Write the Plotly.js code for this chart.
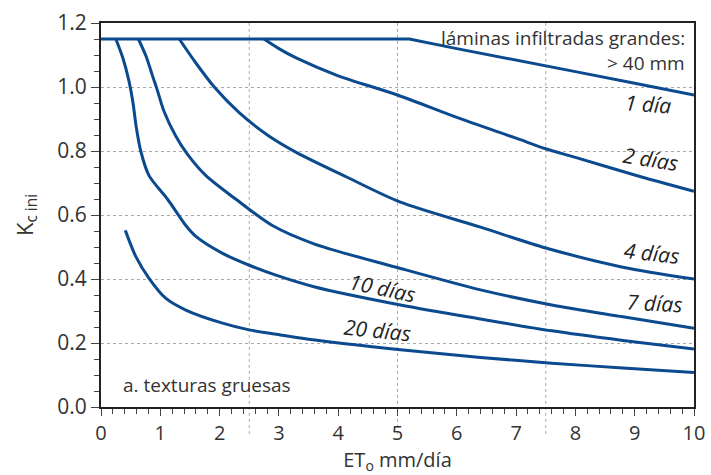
<!DOCTYPE html>
<html>
<head>
<meta charset="utf-8">
<script src="https://cdn.plot.ly/plotly-3.0.1.min.js"></script>
<style>html,body{margin:0;padding:0;background:#fff;}#chart{width:711px;height:475px;}</style>
</head>
<body>
<div id="chart"></div>
<script>
// ---- Data ----
const eto1d  = [0, 5.2, 6, 7, 8, 9, 10];
const kc1d   = [1.15, 1.15, 1.12, 1.085, 1.048, 1.012, 0.975];

const eto2d  = [2.75, 3.0, 3.3, 4.0, 5.0, 6.0, 7.0, 7.5, 8.0, 9.0, 10];
const kc2d   = [1.15, 1.12, 1.09, 1.035, 0.975, 0.905, 0.84, 0.807, 0.78, 0.725, 0.674];

const eto4d  = [1.32, 1.6, 1.91, 2.33, 2.83, 3.3, 4.15, 5.05, 6.4, 7.5, 8.8, 10];
const kc4d   = [1.15, 1.075, 1.0, 0.92, 0.847, 0.795, 0.718, 0.64, 0.562, 0.497, 0.437, 0.40];

const eto7d  = [0.63, 0.76, 0.87, 0.95, 1.06, 1.26, 1.45, 1.77, 2.27, 2.89, 3.59, 5.05, 6.4, 7.6, 8.8, 10];
const kc7d   = [1.15, 1.096, 1.034, 0.99, 0.925, 0.847, 0.792, 0.723, 0.65, 0.567, 0.51, 0.433, 0.366, 0.319, 0.282, 0.246];

const eto10d = [0.25, 0.37, 0.47, 0.54, 0.59, 0.67, 0.81, 1.12, 1.43, 1.6, 2.05, 2.5, 2.95, 3.59, 5.05, 6.4, 7.6, 8.8, 10];
const kc10d  = [1.15, 1.09, 1.02, 0.95, 0.88, 0.80, 0.723, 0.65, 0.567, 0.533, 0.48, 0.443, 0.412, 0.376, 0.319, 0.275, 0.238, 0.208, 0.181];

const eto20d = [0.41, 0.59, 0.81, 1.09, 1.43, 2.05, 2.5, 3.03, 3.5, 5.05, 6.4, 7.6, 8.8, 10];
const kc20d  = [0.552, 0.469, 0.402, 0.34, 0.303, 0.262, 0.241, 0.225, 0.212, 0.179, 0.155, 0.137, 0.122, 0.108];

const xTickVals = [0,1,2,3,4,5,6,7,8,9,10];
const yTickVals = [0.0,0.2,0.4,0.6,0.8,1.0,1.2];
const xGridVals = [2.5, 5, 7.5];

const curveLabels = ['1 día', '2 días', '4 días', '7 días', '10 días', '20 días'];
const curveLabelX = [9.23, 9.27, 9.29, 9.33, 4.75, 4.66];
const curveLabelY = [0.947, 0.776, 0.48, 0.325, 0.372, 0.241];
const curveLabelAngle = [4, 9, 6, 3, 12, 6];

const noteTop1 = 'láminas infiltradas grandes:';
const noteTop2 = '> 40 mm';
const notePanel = 'a. texturas gruesas';

// ---- Drawing ----
const LINE = '#0b4a8e';
const TXT = '#333333';
const FONT = 'Open Sans, Noto Sans, sans-serif';

function tr(x, y, shape) {
  return {x: x, y: y, type: 'scatter', mode: 'lines',
          line: {color: LINE, width: 3, shape: shape || 'spline', smoothing: 0.8},
          hoverinfo: 'skip', showlegend: false};
}
const data = [
  tr(eto1d, kc1d, 'linear'),
  tr(eto2d, kc2d), tr(eto4d, kc4d), tr(eto7d, kc7d), tr(eto10d, kc10d), tr(eto20d, kc20d)
];

const annotations = curveLabels.map((t, i) => ({
  text: '<i>' + t + '</i>', x: curveLabelX[i], y: curveLabelY[i], xref: 'x', yref: 'y',
  showarrow: false, textangle: curveLabelAngle[i],
  font: {family: FONT, size: 21, color: '#222'}
}));
annotations.push({text: noteTop1, x: 9.88, y: 1.152, xref: 'x', yref: 'y', xanchor: 'right', yanchor: 'middle',
  showarrow: false, font: {family: FONT, size: 19, color: TXT}});
annotations.push({text: noteTop2, x: 9.88, y: 1.074, xref: 'x', yref: 'y', xanchor: 'right', yanchor: 'middle',
  showarrow: false, font: {family: FONT, size: 19, color: TXT}});
annotations.push({text: notePanel, x: 0.34, y: 0.07, xref: 'x', yref: 'y', xanchor: 'left', yanchor: 'middle',
  showarrow: false, font: {family: FONT, size: 19, color: TXT}});

const shapes = xGridVals.map(v => ({
  type: 'line', xref: 'x', yref: 'paper', x0: v, x1: v, y0: -0.07, y1: 1,
  line: {color: '#a8a8a8', width: 1, dash: 'dot'}, layer: 'below'
}));

const layout = {
  width: 711, height: 475,
  margin: {l: 101, r: 17, t: 23, b: 68},
  paper_bgcolor: '#fff', plot_bgcolor: '#fff',
  font: {family: FONT, color: TXT},
  xaxis: {
    range: [0, 10], tickvals: xTickVals, ticks: 'outside', ticklen: 7, tickwidth: 1, tickcolor: '#444',
    minor: {dtick: 0.2, ticks: 'outside', ticklen: 5, tickcolor: '#444', showgrid: false},
    showgrid: false, zeroline: false, showline: true, mirror: true, linecolor: '#222', linewidth: 2,
    tickfont: {family: FONT, size: 20, color: TXT},
    title: {text: 'ET<sub>o</sub> mm/día', font: {family: FONT, size: 20, color: TXT}, standoff: 9}
  },
  yaxis: {
    range: [0, 1.2], tickvals: yTickVals, tickformat: '.1f', ticks: 'outside', ticklen: 8, tickwidth: 1, tickcolor: '#444',
    minor: {dtick: 0.05, ticks: 'outside', ticklen: 5, tickcolor: '#444', showgrid: false},
    showgrid: true, gridcolor: '#a8a8a8', gridwidth: 1, griddash: 'dot',
    zeroline: false, showline: true, mirror: true, linecolor: '#222', linewidth: 2,
    tickfont: {family: FONT, size: 21, color: TXT},
    title: {text: 'K<sub>c ini</sub>', font: {family: FONT, size: 22, color: TXT}, standoff: 18}
  },
  annotations: annotations,
  shapes: shapes
};

Plotly.newPlot('chart', data, layout, {staticPlot: true, displayModeBar: false});
</script>
</body>
</html>
